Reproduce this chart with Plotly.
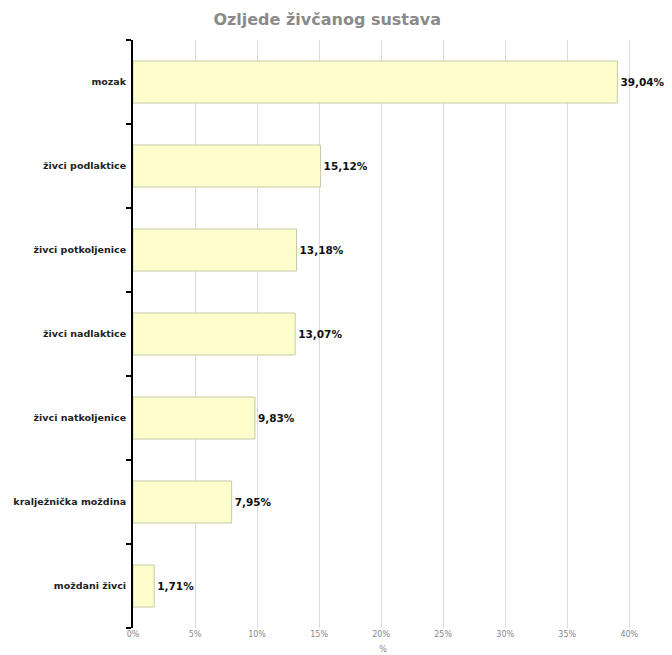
import plotly.graph_objects as go

categories = ["mozak", "živci podlaktice", "živci potkoljenice", "živci nadlaktice",
              "živci natkoljenice", "kralježnička moždina", "moždani živci"]
values = [39.04, 15.12, 13.18, 13.07, 9.83, 7.95, 1.71]
tick_vals = [0, 5, 10, 15, 20, 25, 30, 35, 40]
tick_text = [f"{v}%" for v in tick_vals]
labels = [f"<b>{v:.2f}%</b>".replace(".", ",") for v in values]

fig = go.Figure(go.Bar(
    x=values, y=categories, orientation="h",
    width=0.5,
    marker=dict(color="#fefecd", line=dict(color="#c9c9a6", width=1)),
    text=labels, textposition="outside", cliponaxis=False,
    textfont=dict(family="DejaVu Sans", size=10.5, color="#111111"),
))

fig.update_layout(
    width=672, height=655,
    margin=dict(l=125, r=47, t=32, b=35),
    paper_bgcolor="white", plot_bgcolor="white",
    showlegend=False,
    title=dict(text="<b>Ozljede živčanog sustava</b>", x=0.475, xanchor="center",
               y=0.982, yanchor="middle",
               font=dict(family="DejaVu Sans", size=16, color="#8a8a8a")),
    font=dict(family="DejaVu Sans"),
)
fig.update_xaxes(
    range=[0, 40.3], tickvals=tick_vals, ticktext=tick_text,
    showgrid=True, gridcolor="#dcdcdc", gridwidth=1,
    tickfont=dict(size=8, color="#888888"),
    zeroline=False, showline=False, ticks="", automargin=False,
    title=dict(text="%", font=dict(size=8, color="#888888"), standoff=8),
)
fig.update_yaxes(
    autorange="reversed", automargin=False,
    showline=True, linecolor="black", linewidth=2,
    ticks="outside", tickson="boundaries", ticklen=5, tickwidth=2, tickcolor="black",
    tickfont=dict(size=9.5, color="#222222"), ticklabelstandoff=3,
    showgrid=False,
)
fig.update_yaxes(tickvals=categories, ticktext=[f"<b>{c}</b>" for c in categories])
fig.write_html("out.html")
